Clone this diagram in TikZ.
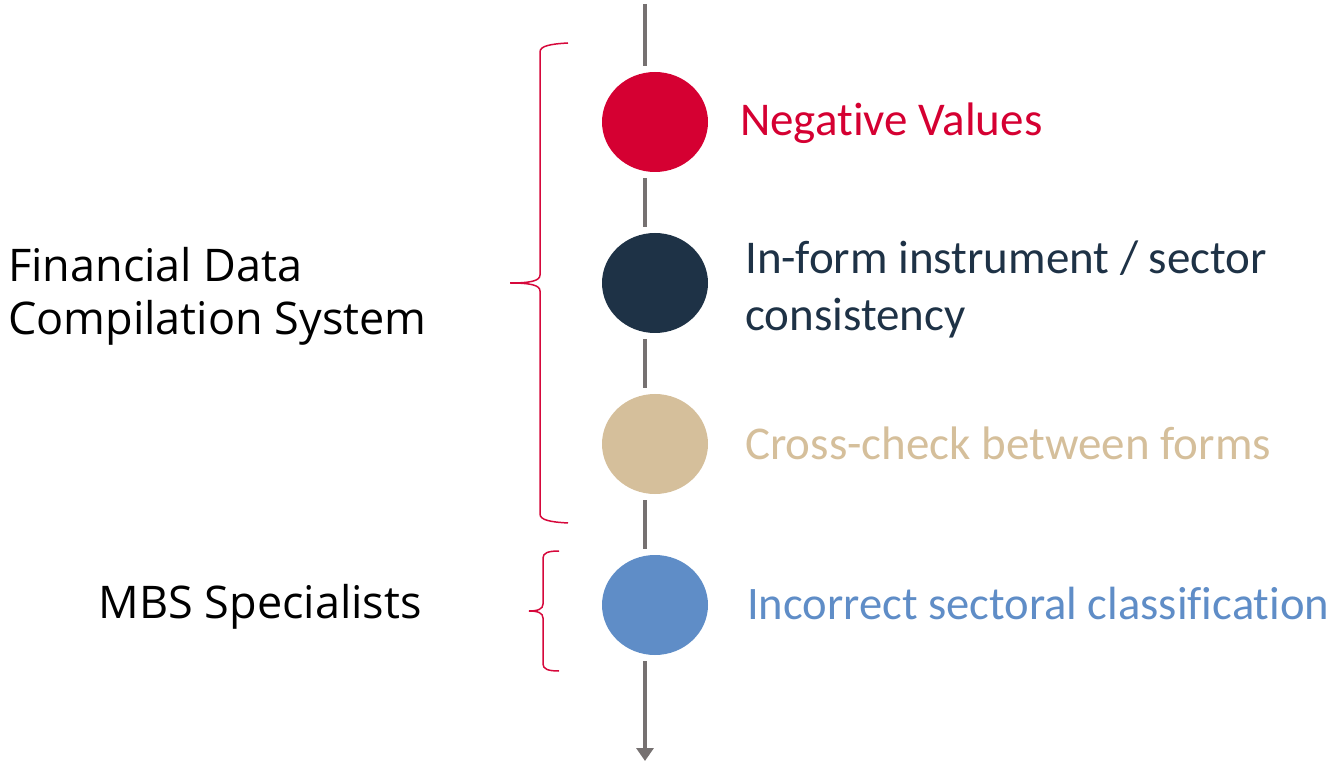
\documentclass[tikz,border=0pt]{standalone}
\usepackage{fontspec}
\setmainfont[Ligatures=NoCommon]{Carlito}
\newfontfamily\leftfont{Open Sans}
\usetikzlibrary{shapes.geometric,arrows.meta}
\definecolor{redval}{HTML}{D50032}
\definecolor{navyval}{HTML}{1E3246}
\definecolor{tanval}{HTML}{D5BF9B}
\definecolor{blueval}{HTML}{5F8DC7}
\definecolor{axisgray}{HTML}{767171}
\definecolor{bracered}{HTML}{D6083B}

\begin{document}
\begin{tikzpicture}[x=1pt, y=1pt,
    dot/.style={ellipse, minimum width=106pt, minimum height=100pt, inner sep=0pt},
    axis/.style={line width=4pt, axisgray},
    itemtext/.style={anchor=base west, inner sep=0pt, align=left, font=\fontsize{47}{57}\selectfont},
    grouptext/.style={inner sep=0pt, align=left, font=\leftfont\fontsize{45}{53}\selectfont},
    brace/.style={line width=1.5pt, bracered}]
    \useasboundingbox (0,0) rectangle (1333,764);

    % Dots
    \node[dot, fill=redval] (neg) at (655,642) {};
    \node[dot, fill=navyval] (inform) at (655,481) {};
    \node[dot, fill=tanval] (cross) at (655,320) {};
    \node[dot, fill=blueval] (sector) at (655,159) {};

    % Timeline
    \coordinate (top) at (645,760);
    \coordinate (bottom) at (645,3);
    \draw[axis] (top) -- ([yshift=6pt]top |- neg.north);
    \draw[axis] ([yshift=-6pt]top |- neg.south) -- ([yshift=6pt]top |- inform.north);
    \draw[axis] ([yshift=-6pt]top |- inform.south) -- ([yshift=6pt]top |- cross.north);
    \draw[axis] ([yshift=-6pt]top |- cross.south) -- ([yshift=6pt]top |- sector.north);
    \draw[axis, -{Triangle[length=13pt, width=17pt]}] ([yshift=-6pt]top |- sector.south) -- (bottom);

    % Checks
    \node[itemtext, text=redval] (negtext) at (740,628) {Negative Values};
    \node[itemtext, text=navyval] (informtext) at (745,433) {In-form instrument / sector\\consistency};
    \node[itemtext, text=tanval] (crosstext) at (745,305) {Cross-check between forms};
    \node[itemtext, text=blueval, font=\fontsize{46.6}{57}\selectfont] (sectortext) at (747,145) {Incorrect sectoral classification};

    % Groups
    \node[grouptext, anchor=base west] (fdcs) at (8,429) {Financial Data\\Compilation System};
    \node[grouptext, anchor=base east] (mbs) at (422,146) {MBS Specialists};

    % Braces
    \draw[brace] (568,721) .. controls (550,720) and (540,718) .. (540,712) -- (540,489)
      .. controls (540,483) and (530,481) .. (510,481) .. controls (530,481) and (540,479) .. (540,473)
      -- (540,250) .. controls (540,244) and (550,242) .. (568,241);
    \draw[brace] (559,213) .. controls (548,213) and (543,211) .. (543,206) -- (543,160)
      .. controls (543,155) and (538,153) .. (529,153) .. controls (538,153) and (543,151) .. (543,146)
      -- (543,100) .. controls (543,95) and (548,93) .. (559,93);
  \end{tikzpicture}
\end{document}
